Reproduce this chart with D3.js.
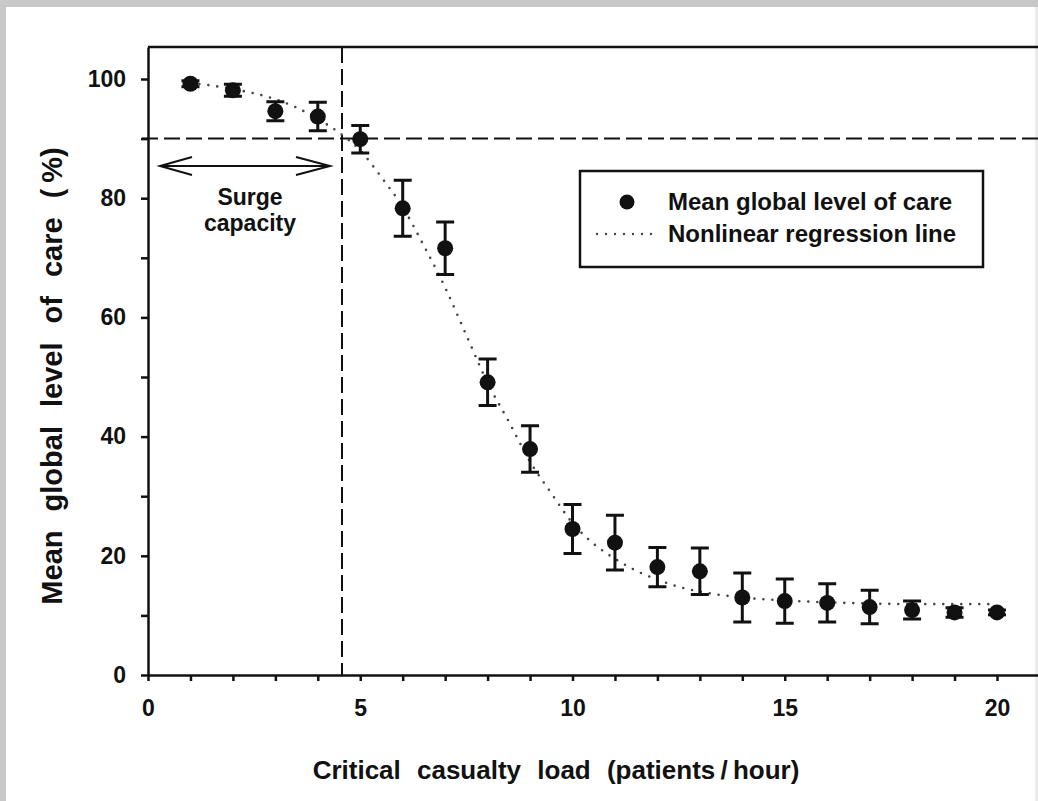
<!DOCTYPE html>
<html lang="en">
<head>
    <meta charset="UTF-8">
    <script src="https://cdn.jsdelivr.net/npm/d3@7"></script>
    <title>Mean global level of care vs critical casualty load</title>
    <style>
        html,
        body {
            margin: 0px;
            padding: 0px;
            background-color: #ffffff;
            font-family: "Liberation Sans", Arial, sans-serif;
        }
        #chart text {
            font-weight: bold;
            fill: #111;
        }
    </style>
</head>
<body>
    <div id="chart"></div>

    <script>

        // measured points (patients / hour), mean level of care and error half-length
        let loads = [1, 2, 3, 4, 5, 6, 7, 8, 9, 10, 11, 12, 13, 14, 15, 16, 17, 18, 19, 20];
        let meanCare = [99.2, 98.1, 94.6, 93.7, 89.9, 78.3, 71.6, 49.1, 37.9, 24.5, 22.2, 18.1, 17.4, 13.0, 12.4, 12.1, 11.4, 10.9, 10.5, 10.5];
        let errCare = [0.5, 1.0, 1.6, 2.4, 2.3, 4.7, 4.4, 3.9, 3.9, 4.1, 4.6, 3.3, 3.9, 4.1, 3.7, 3.2, 2.8, 1.5, 0.8, 0.4];

        // nonlinear regression curve
        let fitLoad = [1, 1.5, 2, 2.5, 3, 3.5, 4, 4.5, 5, 5.5, 6, 6.5, 7, 7.5, 8, 8.5, 9, 9.5, 10, 10.5, 11, 11.5, 12, 12.5, 13, 14, 15, 16, 17, 18, 19, 20];
        let fitCare = [99.3, 98.9, 98.3, 97.6, 96.6, 95.2, 93.3, 91.0, 88.0, 83.5, 78.5, 72.0, 65.0, 57.0, 49.0, 42.5, 35.8, 30.5, 25.5, 22.0, 19.5, 17.5, 16.0, 14.8, 14.0, 13.0, 12.5, 12.2, 12.0, 11.9, 11.9, 11.9];

        let xTicks = d3.range(0, 21);
        let yTicks = d3.range(0, 101, 10);
        let surgeLimit = 4.57;
        let careThreshold = 90;
        let legendLabels = ['Mean global level of care', 'Nonlinear regression line'];

        let width = 1038;
        let height = 801;

        let margin = {
            top: 47,
            left: 148,
            bottom: 126
        };

        let svg = d3.select('#chart').append('svg')
            .attr('width', width)
            .attr('height', height);

        // scanned page background
        svg.append('rect').attr('width', width).attr('height', height).attr('fill', '#c8c8c8');
        svg.append('rect').attr('x', 6).attr('y', 7).attr('width', width - 6).attr('height', height - 7).attr('fill', '#fff');
        svg.append('rect').attr('x', 1035).attr('y', 7).attr('width', 3).attr('height', height - 7).attr('fill', '#ebebeb');

        let x = d3.scaleLinear().domain([0, 21.3]).range([margin.left, margin.left + 21.3 * 42.45]);
        let y = d3.scaleLinear().domain([0, 105.37]).range([height - margin.bottom, margin.top]);

        // frame top
        svg.append('line')
            .attr('x1', x(0)).attr('x2', x(21.3))
            .attr('y1', y(105.37)).attr('y2', y(105.37))
            .attr('stroke', '#111').attr('stroke-width', 2.5);

        let xAxis = svg.append('g')
            .attr('transform', `translate(0,${y(0)})`)
            .call(d3.axisBottom(x).tickValues(xTicks).tickSize(6).tickSizeOuter(0).tickPadding(19)
                .tickFormat(d => d % 5 === 0 ? d : ''));

        let yAxis = svg.append('g')
            .attr('transform', `translate(${x(0)},0)`)
            .call(d3.axisLeft(y).tickValues(yTicks).tickSize(7).tickSizeOuter(0).tickPadding(15)
                .tickFormat(d => d % 20 === 0 ? d : ''));

        [xAxis, yAxis].forEach(ax => {
            ax.select('.domain').attr('stroke', '#111').attr('stroke-width', 2.5);
            ax.selectAll('.tick line').attr('stroke', '#111').attr('stroke-width', 2.5);
            ax.selectAll('.tick text').attr('font-size', 23).attr('font-family', '"Liberation Sans", Arial, sans-serif');
        });

        // reference lines
        svg.append('line')
            .attr('x1', x(0) - 6).attr('x2', x(21.3))
            .attr('y1', y(careThreshold)).attr('y2', y(careThreshold))
            .attr('stroke', '#111').attr('stroke-width', 2).attr('stroke-dasharray', '16,6');
        svg.append('line')
            .attr('x1', x(surgeLimit)).attr('x2', x(surgeLimit))
            .attr('y1', y(105.37)).attr('y2', y(0))
            .attr('stroke', '#111').attr('stroke-width', 2).attr('stroke-dasharray', '16,6');

        // surge capacity double arrow
        let ay = 166;
        let ax1 = 160, ax2 = 330;
        svg.append('path')
            .attr('d', `M${ax1},${ay}L${ax2},${ay}M${ax1 + 32},${ay - 9}L${ax1},${ay}L${ax1 + 32},${ay + 9}M${ax2 - 34},${ay - 9}L${ax2},${ay}L${ax2 - 34},${ay + 9}`)
            .attr('fill', 'none').attr('stroke', '#111').attr('stroke-width', 2);
        svg.append('text').attr('x', 250).attr('y', 205).attr('text-anchor', 'middle').attr('font-size', 23).text('Surge');
        svg.append('text').attr('x', 250).attr('y', 231).attr('text-anchor', 'middle').attr('font-size', 23).text('capacity');

        // regression line
        let fitLine = d3.line()
            .x((d, i) => x(fitLoad[i]))
            .y(d => y(d))
            .curve(d3.curveMonotoneX);
        svg.append('path')
            .datum(fitCare)
            .attr('d', fitLine)
            .attr('fill', 'none')
            .attr('stroke', '#444')
            .attr('stroke-width', 2.6)
            .attr('stroke-linecap', 'round')
            .attr('stroke-dasharray', '0,9');

        // error bars + points
        let pts = svg.append('g').selectAll('g')
            .data(loads)
            .join('g');
        pts.append('path')
            .attr('d', (d, i) => {
                let cx = x(d), lo = y(meanCare[i] - errCare[i]), hi = y(meanCare[i] + errCare[i]);
                return `M${cx},${lo}L${cx},${hi}M${cx - 9},${hi}L${cx + 9},${hi}M${cx - 9},${lo}L${cx + 9},${lo}`;
            })
            .attr('fill', 'none').attr('stroke', '#111').attr('stroke-width', 3);
        pts.append('circle')
            .attr('cx', d => x(d))
            .attr('cy', (d, i) => y(meanCare[i]))
            .attr('r', 8)
            .attr('fill', '#111');

        // legend
        let legend = svg.append('g');
        legend.append('rect')
            .attr('x', 580).attr('y', 171).attr('width', 403).attr('height', 96)
            .attr('fill', '#fff').attr('stroke', '#111').attr('stroke-width', 2.5);
        legend.append('circle').attr('cx', 627).attr('cy', 202).attr('r', 7.5).attr('fill', '#111');
        legend.append('line')
            .attr('x1', 597).attr('x2', 655).attr('y1', 234).attr('y2', 234)
            .attr('stroke', '#444').attr('stroke-width', 2.4).attr('stroke-linecap', 'round').attr('stroke-dasharray', '0,9');
        legend.selectAll('text.lab')
            .data(legendLabels)
            .join('text')
            .attr('class', 'lab')
            .attr('x', 668)
            .attr('y', (d, i) => 210 + i * 32)
            .attr('font-size', 24)
            .text(d => d);

        // axis titles
        svg.append('text')
            .attr('x', 556).attr('y', 779)
            .attr('text-anchor', 'middle')
            .attr('font-size', 26)
            .attr('word-spacing', 9)
            .text('Critical casualty load (patients\u2009/\u2009hour)');
        svg.append('text')
            .attr('transform', 'translate(62,376) rotate(-90)')
            .attr('text-anchor', 'middle')
            .attr('font-size', 29)
            .attr('word-spacing', 11)
            .text('Mean global level of care (\u2009%)');

    </script>
</body>
</html>
